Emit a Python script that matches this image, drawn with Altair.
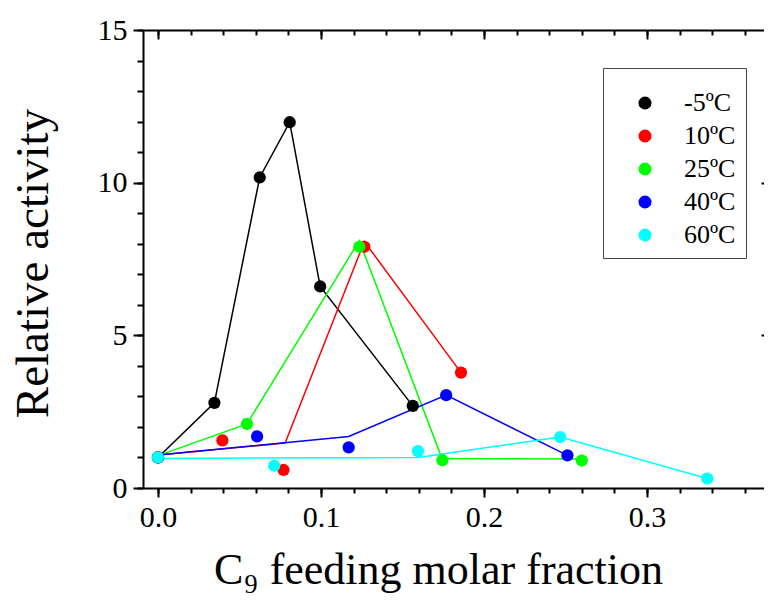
import altair as alt
import pandas as pd

series = ["-5ºC", "10ºC", "25ºC", "40ºC", "60ºC"]
colors = ["#000000", "#ff0000", "#00ff00", "#0000ff", "#00ffff"]

# measured symbols
pt_x = {
    "-5ºC": [0.0, 0.0346, 0.0624, 0.0808, 0.0995, 0.1563],
    "10ºC": [0.0, 0.0395, 0.0770, 0.1266, 0.1859],
    "25ºC": [0.0, 0.0546, 0.1235, 0.1745, 0.2600],
    "40ºC": [0.0, 0.0608, 0.1170, 0.1768, 0.2512],
    "60ºC": [0.0, 0.0713, 0.1595, 0.2468, 0.3370],
}
pt_y = {
    "-5ºC": [1.0, 2.79, 10.17, 11.98, 6.60, 2.69],
    "10ºC": [1.0, 1.56, 0.59, 7.90, 3.78],
    "25ºC": [1.0, 2.10, 7.90, 0.91, 0.90],
    "40ºC": [1.0, 1.69, 1.33, 3.04, 1.07],
    "60ºC": [1.0, 0.73, 1.21, 1.67, 0.31],
}
# connecting lines (trend lines, not always through symbols)
ln_x = {
    "-5ºC": [0.0, 0.0346, 0.0624, 0.0808, 0.0995, 0.1563],
    "10ºC": [0.0, 0.0780, 0.1266, 0.1859],
    "25ºC": [0.0, 0.0546, 0.1235, 0.1742, 0.2600],
    "40ºC": [0.0, 0.1170, 0.1768, 0.2512],
    "60ºC": [0.0, 0.1595, 0.2468, 0.3370],
}
ln_y = {
    "-5ºC": [1.0, 2.79, 10.17, 11.98, 6.60, 2.69],
    "10ºC": [1.08, 1.47, 8.07, 3.78],
    "25ºC": [1.06, 2.10, 8.10, 0.97, 0.95],
    "40ºC": [1.08, 1.69, 3.04, 1.07],
    "60ºC": [0.97, 1.00, 1.67, 0.31],
}

x_major = [0.0, 0.1, 0.2, 0.3]
x_minor = [round(i * 0.02, 2) for i in range(19)]
y_major = [0, 5, 10, 15]
y_minor = list(range(16))

FONT = "Liberation Serif"
color_of = dict(zip(series, colors))

pts = pd.DataFrame(
    [(s, x, y, i) for i, s in enumerate(series) for x, y in zip(pt_x[s], pt_y[s])],
    columns=["series", "x", "y", "order"],
)
lns = pd.DataFrame(
    [(s, color_of[s], x, y, i) for i, s in enumerate(series)
     for x, y in zip(ln_x[s], ln_y[s])],
    columns=["series", "col", "x", "y", "order"],
)

xs = alt.Scale(domain=[-0.0092, 0.3718], nice=False, zero=False)
ys = alt.Scale(domain=[0, 15], nice=False, zero=False)

common = dict(domainColor="black", tickColor="black", labelColor="black",
              titleColor="black", grid=False, domainWidth=2, tickWidth=2)

lines = alt.Chart(lns).mark_line(strokeWidth=1.5).encode(
    x=alt.X("x:Q", scale=xs, axis=alt.Axis(
        orient="bottom", values=x_major, format=".1f", tickSize=9,
        labelFont=FONT, labelFontSize=30, labelPadding=5,
        title="C₉ feeding molar fraction", titleFont=FONT, titleFontSize=44,
        titleFontWeight="normal", titlePadding=16, titleX=295, **common)),
    y=alt.Y("y:Q", scale=ys, axis=alt.Axis(
        orient="left", values=y_major, format="d", tickSize=10,
        labelFont=FONT, labelFontSize=30, labelPadding=6,
        title="Relative activity", titleFont=FONT, titleFontSize=47,
        titleFontWeight="normal", titlePadding=40, titleY=233, **common)),
    stroke=alt.Stroke("col:N", scale=None),
    detail="series:N",
)

points = alt.Chart(pts).mark_circle(size=150, opacity=1).encode(
    x=alt.X("x:Q", scale=xs, axis=alt.Axis(
        orient="bottom", values=x_minor, tickSize=5, labels=False,
        domain=False, title=None, **common)),
    y=alt.Y("y:Q", scale=ys, axis=alt.Axis(
        orient="left", values=y_minor, tickSize=6, labels=False,
        domain=False, title=None, **common)),
    color=alt.Color("series:N", scale=alt.Scale(domain=series, range=colors),
                    sort=series, legend=alt.Legend(
        orient="none", legendX=460, legendY=38, title=" ",
        titleFontSize=6, titlePadding=6,
        labelFont=FONT, labelFontSize=26, labelColor="black",
        symbolType="circle", symbolSize=170, symbolStrokeWidth=0,
        symbolOpacity=1,
        padding=10, symbolOffset=19, labelOffset=26, rowPadding=7,
        strokeColor="#444444", fillColor="white")),
    order="order:Q",
)

top_minor = alt.Chart(pts).mark_circle(opacity=0).encode(
    x=alt.X("x:Q", scale=xs, axis=alt.Axis(
        orient="top", values=x_minor, tickSize=5, offset=-5, labels=False,
        domain=False, title=None, **common)),
    y=alt.Y("y:Q", scale=ys, axis=None),
)
top_major = alt.Chart(pts).mark_circle(opacity=0).encode(
    x=alt.X("x:Q", scale=xs, axis=alt.Axis(
        orient="top", values=x_major, tickSize=9, offset=-9, labels=False,
        domain=False, title=None, **common)),
    y=alt.Y("y:Q", scale=ys, axis=alt.Axis(
        orient="right", values=[5, 10], tickSize=3, offset=-3, labels=False,
        domain=False, title=None, **common)),
)
top_line = alt.Chart(pts).mark_circle(opacity=0).encode(
    x=alt.X("x:Q", scale=xs, axis=alt.Axis(
        orient="top", ticks=False, labels=False, domain=True, title=None,
        **common)),
    y=alt.Y("y:Q", scale=ys, axis=None),
)

chart = alt.layer(lines, points, top_minor, top_major, top_line).resolve_axis(
    x="independent", y="independent"
).properties(
    width=621, height=458,
    autosize=alt.AutoSizeParams(type="none"),
    padding={"left": 135, "top": 22, "right": 0, "bottom": 108},
).configure_view(stroke=None)

chart.save("out.html", embed_options={"renderer": "svg", "actions": False})
